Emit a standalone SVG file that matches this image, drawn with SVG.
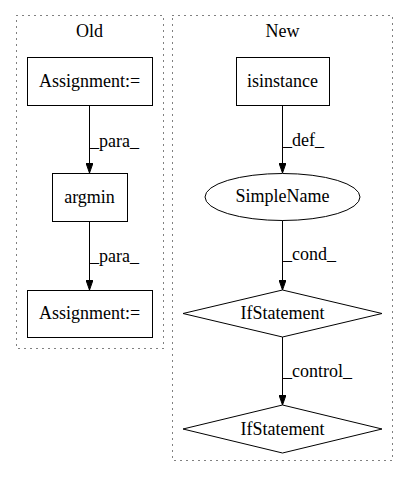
<svg xmlns="http://www.w3.org/2000/svg" width="408" height="480" viewBox="0 0 408 480">
<defs>
<style>
text{font-family:"Liberation Serif","Times New Roman",serif;font-size:18px;fill:#000}
.n{text-anchor:middle}
.cl{fill:none;stroke:#000;stroke-dasharray:1,5;stroke-width:1}
.s{fill:#fff;stroke:#000;stroke-width:1}
.e{fill:none;stroke:#000;stroke-width:1}
</style>
<marker id="a" markerWidth="10" markerHeight="7" refX="10" refY="3.5" orient="auto" markerUnits="userSpaceOnUse">
<path d="M0,0 L10,3.5 L0,7 z" fill="#000" stroke="#000"/>
</marker>
</defs>
<rect width="408" height="480" fill="#fff"/>
<g id="cluster_old">
<rect class="cl" x="16.5" y="15.5" width="147" height="333"/>
<text class="n" x="89.5" y="37">Old</text>
</g>
<g id="cluster_new">
<rect class="cl" x="172.5" y="15.5" width="220" height="445"/>
<text class="n" x="282.5" y="37">New</text>
</g>
<g id="edges">
<path class="e" d="M89.5,105 L89.5,173" marker-end="url(#a)"/>
<text x="90" y="147">_para_</text>
<path class="e" d="M89.5,221 L89.5,290" marker-end="url(#a)"/>
<text x="90" y="262">_para_</text>
<path class="e" d="M282.5,105 L282.5,173" marker-end="url(#a)"/>
<text x="283" y="146">_def_</text>
<path class="e" d="M282.5,220 L282.5,290" marker-end="url(#a)"/>
<text x="283" y="260">_cond_</text>
<path class="e" d="M282.5,337 L282.5,405" marker-end="url(#a)"/>
<text x="283" y="377">_control_</text>
</g>
<g id="assign1">
<rect class="s" x="27.5" y="57.5" width="125" height="48"/>
<text class="n" x="89.5" y="87">Assignment:=</text>
</g>
<g id="argmin">
<rect class="s" x="52.5" y="173.5" width="75" height="48"/>
<text class="n" x="89.5" y="203">argmin</text>
</g>
<g id="assign2">
<rect class="s" x="27.5" y="290.5" width="125" height="47"/>
<text class="n" x="89.5" y="319">Assignment:=</text>
</g>
<g id="isinstance">
<rect class="s" x="236.5" y="57.5" width="93" height="48"/>
<text class="n" x="282.5" y="87">isinstance</text>
</g>
<g id="simplename">
<ellipse class="s" cx="282.5" cy="197" rx="77.5" ry="23.5"/>
<text class="n" x="282.5" y="202">SimpleName</text>
</g>
<g id="if1">
<polygon class="s" points="282.5,290 382,313.5 282.5,337 183,313.5"/>
<text class="n" x="282.5" y="319">IfStatement</text>
</g>
<g id="if2">
<polygon class="s" points="282.5,405 382,429 282.5,453 183,429"/>
<text class="n" x="282.5" y="435">IfStatement</text>
</g>
</svg>
